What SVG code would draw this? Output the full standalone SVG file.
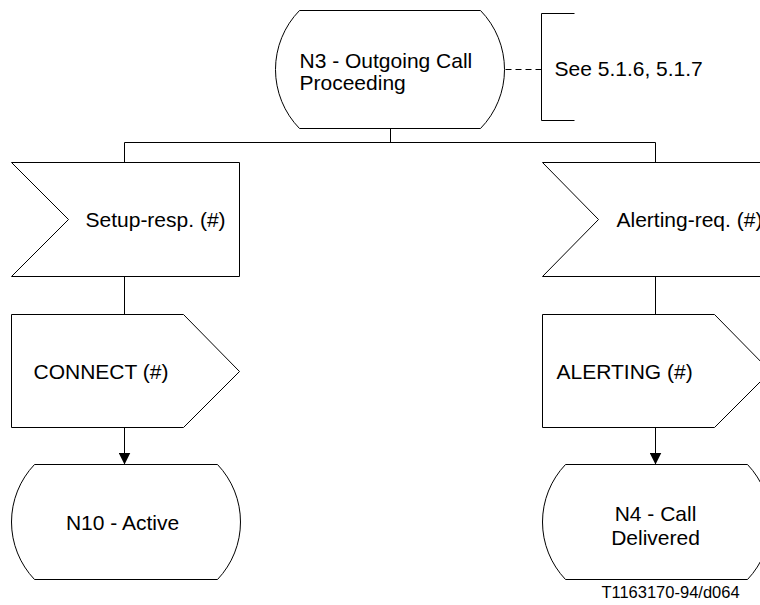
<svg xmlns="http://www.w3.org/2000/svg" width="760" height="605" viewBox="0 0 760 605">
<style>
.s{fill:#fff;stroke:#000;stroke-width:1}
.l{fill:none;stroke:#000;stroke-width:1}
.t{font-family:"Liberation Sans",Arial,sans-serif;font-size:21px;fill:#000}
.f{font-family:"Liberation Sans",Arial,sans-serif;font-size:16.5px;fill:#000}
</style>
<defs>
<marker id="ah" markerWidth="12" markerHeight="12" viewBox="0 0 12 12" refX="12" refY="6" orient="auto" markerUnits="userSpaceOnUse">
<path d="M0,0 L12,6 L0,12 Z" fill="#000"/>
</marker>
</defs>
<rect width="760" height="605" fill="#fff"/>
<g transform="translate(0.5,0.5)">
<g id="connectors">
<line class="l" x1="390" y1="128" x2="390" y2="142"/>
<polyline class="l" points="124,162 124,142 655,142 655,162"/>
<line class="l" x1="124" y1="276" x2="124" y2="314"/>
<line class="l" x1="655" y1="276" x2="655" y2="314"/>
<line class="l" x1="124" y1="427" x2="124" y2="464" marker-end="url(#ah)"/>
<line class="l" x1="655" y1="427" x2="655" y2="464" marker-end="url(#ah)"/>
<line class="l" x1="505" y1="69" x2="541" y2="69" stroke-dasharray="6,4"/>
</g>
<g id="n3">
<path class="s" d="M299,10 L480,10 A84.5,84.5 0 0 1 480,128 L299,128 A84.5,84.5 0 0 1 299,10 Z"/>
<text class="t" x="299" y="67">N3 - Outgoing Call</text>
<text class="t" x="299" y="89">Proceeding</text>
</g>
<g id="comment">
<polyline class="l" points="574,13 541,13 541,120 574,120"/>
<text class="t" x="554" y="75">See 5.1.6, 5.1.7</text>
</g>
<g id="setup-resp">
<path class="s" d="M11,162 L239,162 L239,276 L11,276 L68,219 Z"/>
<text class="t" x="85" y="226">Setup-resp. (#)</text>
</g>
<g id="alerting-req">
<path class="s" d="M542,162 L770,162 L770,276 L542,276 L598,219 Z"/>
<text class="t" x="616" y="226">Alerting-req. (#)</text>
</g>
<g id="connect">
<path class="s" d="M11,314 L183,314 L239,371 L183,427 L11,427 Z"/>
<text class="t" x="33" y="378">CONNECT (#)</text>
</g>
<g id="alerting">
<path class="s" d="M542,314 L714,314 L770,371 L714,427 L542,427 Z"/>
<text class="t" x="556" y="378">ALERTING (#)</text>
</g>
<g id="n10">
<path class="s" d="M34,464 L217,464 A83.4,83.4 0 0 1 217,579 L34,579 A83.4,83.4 0 0 1 34,464 Z"/>
<text class="t" x="122" y="529" text-anchor="middle">N10 - Active</text>
</g>
<g id="n4">
<path class="s" d="M565,464 L747,464 A83.4,83.4 0 0 1 747,579 L565,579 A83.4,83.4 0 0 1 565,464 Z"/>
<text class="t" x="655" y="520" text-anchor="middle">N4 - Call</text>
<text class="t" x="655" y="544" text-anchor="middle">Delivered</text>
</g>
<text class="f" x="670" y="597" text-anchor="middle">T1163170-94/d064</text>
</g>
</svg>
